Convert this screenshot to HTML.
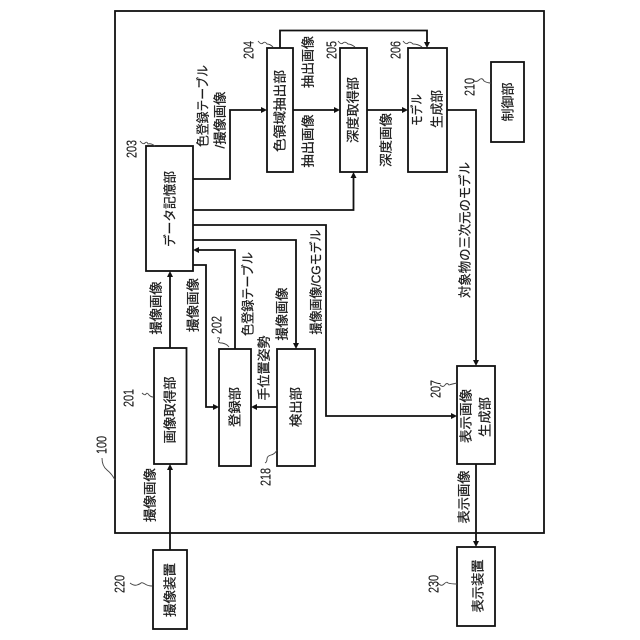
<!DOCTYPE html>
<html><head><meta charset="utf-8"><style>
html,body{margin:0;padding:0;background:#fff;width:640px;height:640px;overflow:hidden}
svg{display:block}
text{font-family:"Liberation Sans","Noto Sans CJK JP",sans-serif;font-size:13px;fill:#1c1c1c;stroke:#1c1c1c;stroke-width:0.25px;text-anchor:middle;dominant-baseline:central}
text.n{font-size:14.500px;stroke-width:0.1px}
</style></head><body>
<svg width="640" height="640" viewBox="0 0 640 640" xmlns="http://www.w3.org/2000/svg">
<g fill="none" stroke="#111" stroke-width="1.800">
<rect x="115" y="11" width="429" height="522"/>
<rect x="267" y="48" width="26" height="124"/>
<rect x="340" y="48" width="27" height="124"/>
<rect x="408" y="48" width="39" height="124"/>
<rect x="491" y="62" width="33" height="80"/>
<rect x="146" y="146" width="47" height="125"/>
<rect x="154" y="348" width="32.500" height="116"/>
<rect x="219" y="349" width="32" height="117"/>
<rect x="277" y="349" width="38" height="117"/>
<rect x="457" y="366" width="38" height="98"/>
<rect x="153" y="550" width="34" height="79"/>
<rect x="457" y="547" width="38" height="79"/>
<path d="M280 48V30.500H427V44"/>
<path d="M193 179H230V110H263"/>
<path d="M293 110H336"/>
<path d="M367 110H404"/>
<path d="M447 110H476V362"/>
<path d="M193 210H353.500V176"/>
<path d="M193 225H326V416H453"/>
<path d="M193 240H296V345"/>
<path d="M235 349V250H197"/>
<path d="M193 265H206V407H215"/>
<path d="M277 407H255"/>
<path d="M170 348V275"/>
<path d="M170 550V468"/>
<path d="M476 464V543"/>
</g>
<g fill="#111" stroke="none">
<path d="M427 48l-3-6h6z"/>
<path d="M267 110l-6-3v6z"/>
<path d="M340 110l-6-3v6z"/>
<path d="M408 110l-6-3v6z"/>
<path d="M476 366l-3-6h6z"/>
<path d="M353.500 172l-3 6h6z"/>
<path d="M457 416l-6-3v6z"/>
<path d="M296 349l-3-6h6z"/>
<path d="M193 250l6-3v6z"/>
<path d="M219 407l-6-3v6z"/>
<path d="M251 407l6-3v6z"/>
<path d="M170 271l-3 6h6z"/>
<path d="M170 464l-3 6h6z"/>
<path d="M476 547l-3-6h6z"/>
</g>
<g fill="none" stroke="#444" stroke-width="0.9">
<path d="M140 141q3 4 5 2t3 1q3-1 7 2"/>
<path d="M258 41q3 4 5 2t4 1q3 0 6 3"/>
<path d="M338 41q3 4 5 2t5 1q3 0 7 3"/>
<path d="M403 41q3 4 5 2t5 1q5 0 9 3"/>
<path d="M473 80q3 3 6 0t5 1q3 2 7 2"/>
<path d="M142 393q3 3 4 1t3 1q2 2 4 2"/>
<path d="M217 338q4-1 2 2t3 3q5 1 7 4"/>
<path d="M440 385q3 3 5 0t4 0q3-1 8-2"/>
<path d="M265 463q2-1 2-4t4-4q4-1 6-5"/>
<path d="M102 458q0 8 5 12t8 10"/>
<path d="M130 583q4 3 7 2t4-2t4 1q3 2 7 2"/>
<path d="M438 583q3 4 6 1t4-1q3 1 9 1"/>
</g>
<g transform="translate(1.500,0)">
<text class="n" transform="translate(131,149) rotate(-90)" textLength="18" lengthAdjust="spacingAndGlyphs">203</text>
<text class="n" transform="translate(248,50) rotate(-90)" textLength="18" lengthAdjust="spacingAndGlyphs">204</text>
<text class="n" transform="translate(331,50) rotate(-90)" textLength="18" lengthAdjust="spacingAndGlyphs">205</text>
<text class="n" transform="translate(395,50) rotate(-90)" textLength="18" lengthAdjust="spacingAndGlyphs">206</text>
<text class="n" transform="translate(469,87) rotate(-90)" textLength="18" lengthAdjust="spacingAndGlyphs">210</text>
<text class="n" transform="translate(128,398) rotate(-90)" textLength="18" lengthAdjust="spacingAndGlyphs">201</text>
<text class="n" transform="translate(216,325) rotate(-90)" textLength="18" lengthAdjust="spacingAndGlyphs">202</text>
<text class="n" transform="translate(435,389) rotate(-90)" textLength="18" lengthAdjust="spacingAndGlyphs">207</text>
<text class="n" transform="translate(265,477) rotate(-90)" textLength="18" lengthAdjust="spacingAndGlyphs">218</text>
<text class="n" transform="translate(101,445) rotate(-90)" textLength="18" lengthAdjust="spacingAndGlyphs">100</text>
<text class="n" transform="translate(119,584) rotate(-90)" textLength="18" lengthAdjust="spacingAndGlyphs">220</text>
<text class="n" transform="translate(433,584) rotate(-90)" textLength="18" lengthAdjust="spacingAndGlyphs">230</text>
</g>
<g>
<text transform="translate(170,209) rotate(-90)" textLength="76" lengthAdjust="spacingAndGlyphs">データ記憶部</text>
<text transform="translate(280,111) rotate(-90)" textLength="82" lengthAdjust="spacingAndGlyphs">色領域抽出部</text>
<text transform="translate(353,110) rotate(-90)" textLength="66" lengthAdjust="spacingAndGlyphs">深度取得部</text>
<text transform="translate(417,110) rotate(-90)" textLength="32" lengthAdjust="spacingAndGlyphs">モデル</text>
<text transform="translate(437,109) rotate(-90)" textLength="38" lengthAdjust="spacingAndGlyphs">生成部</text>
<text transform="translate(508,102) rotate(-90)" textLength="39" lengthAdjust="spacingAndGlyphs">制御部</text>
<text transform="translate(170,410) rotate(-90)" textLength="67" lengthAdjust="spacingAndGlyphs">画像取得部</text>
<text transform="translate(235,407) rotate(-90)" textLength="40" lengthAdjust="spacingAndGlyphs">登録部</text>
<text transform="translate(296,407) rotate(-90)" textLength="40" lengthAdjust="spacingAndGlyphs">検出部</text>
<text transform="translate(466,416) rotate(-90)" textLength="54" lengthAdjust="spacingAndGlyphs">表示画像</text>
<text transform="translate(485,417) rotate(-90)" textLength="40" lengthAdjust="spacingAndGlyphs">生成部</text>
<text transform="translate(170,590) rotate(-90)" textLength="54" lengthAdjust="spacingAndGlyphs">撮像装置</text>
<text transform="translate(478,586) rotate(-90)" textLength="53" lengthAdjust="spacingAndGlyphs">表示装置</text>

<text transform="translate(308,62) rotate(-90)" textLength="52" lengthAdjust="spacingAndGlyphs">抽出画像</text>
<text transform="translate(308,141) rotate(-90)" textLength="53" lengthAdjust="spacingAndGlyphs">抽出画像</text>
<text transform="translate(386,140) rotate(-90)" textLength="54" lengthAdjust="spacingAndGlyphs">深度画像</text>
<text transform="translate(203,106) rotate(-90)" textLength="82" lengthAdjust="spacingAndGlyphs">色登録テーブル</text>
<text transform="translate(220,120) rotate(-90)" textLength="57" lengthAdjust="spacingAndGlyphs">/撮像画像</text>
<text transform="translate(156,308) rotate(-90)" textLength="53" lengthAdjust="spacingAndGlyphs">撮像画像</text>
<text transform="translate(193,305) rotate(-90)" textLength="54" lengthAdjust="spacingAndGlyphs">撮像画像</text>
<text transform="translate(248,294) rotate(-90)" textLength="84" lengthAdjust="spacingAndGlyphs">色登録テーブル</text>
<text transform="translate(282,314) rotate(-90)" textLength="53" lengthAdjust="spacingAndGlyphs">撮像画像</text>
<text transform="translate(264,368) rotate(-90)" textLength="65" lengthAdjust="spacingAndGlyphs">手位置姿勢</text>
<text transform="translate(316,282) rotate(-90)" textLength="105" lengthAdjust="spacingAndGlyphs">撮像画像/CGモデル</text>
<text transform="translate(465,230) rotate(-90)" textLength="136" lengthAdjust="spacingAndGlyphs">対象物の三次元のモデル</text>
<text transform="translate(150,495) rotate(-90)" textLength="54" lengthAdjust="spacingAndGlyphs">撮像画像</text>
<text transform="translate(464,497) rotate(-90)" textLength="53" lengthAdjust="spacingAndGlyphs">表示画像</text>
</g>
</svg>
</body></html>
